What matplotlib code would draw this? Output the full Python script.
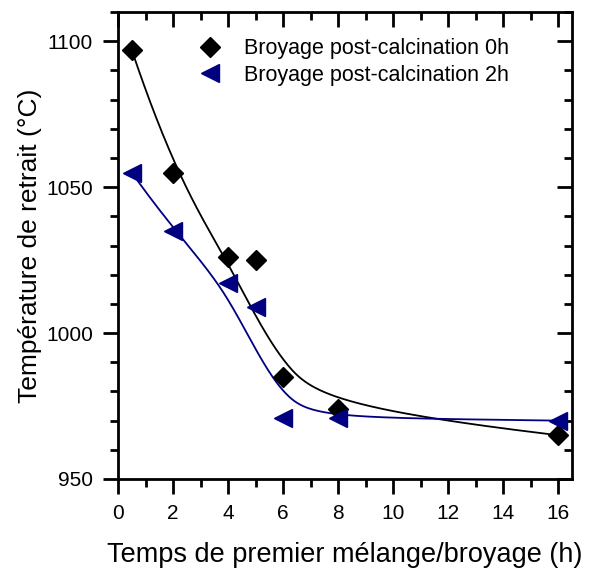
import numpy as np
import matplotlib
matplotlib.use("Agg")
import matplotlib.pyplot as plt
from matplotlib.ticker import MultipleLocator

plt.rcParams['font.family'] = ['Liberation Sans', 'DejaVu Sans']

# durée du premier mélange/broyage (h)
temps = [0.5, 2, 4, 5, 6, 8, 16]
# température de retrait (°C)
broyage_0h = [1097, 1055, 1026, 1025, 985, 974, 965]
broyage_2h = [1055, 1035, 1017, 1009, 971, 971, 970]
# le point à 5 h n'entre pas dans la courbe de tendance
dans_courbe = [True, True, True, False, True, True, True]


def bspline(px, py, n=400, k=3):
    # B-spline cubique ouverte, les points de mesure servent de points de contrôle
    P = np.column_stack([px, py]).astype(float)
    m = len(P)
    knots = np.concatenate([np.zeros(k), np.arange(m - k + 1), np.full(k, m - k)]).astype(float)
    t = np.linspace(0, m - k, n)
    t[-1] -= 1e-9

    def basis(i, d, t):
        if d == 0:
            return ((knots[i] <= t) & (t < knots[i + 1])).astype(float)
        a = 0.0
        b = 0.0
        if knots[i + d] != knots[i]:
            a = (t - knots[i]) / (knots[i + d] - knots[i]) * basis(i, d - 1, t)
        if knots[i + d + 1] != knots[i + 1]:
            b = (knots[i + d + 1] - t) / (knots[i + d + 1] - knots[i + 1]) * basis(i + 1, d - 1, t)
        return a + b

    B = np.column_stack([basis(i, k, t) for i in range(m)])
    C = B @ P
    return C[:, 0], C[:, 1]


fig = plt.figure(figsize=(5.9, 5.72), dpi=100)
ax = fig.add_axes([0.2, 0.1626, 0.7695, 0.8164])

navy = '#000080'
sel = np.array(dans_courbe)

x0, y0 = bspline(np.array(temps)[sel], np.array(broyage_0h)[sel])
x2, y2 = bspline(np.array(temps)[sel], np.array(broyage_2h)[sel])
ax.plot(x0, y0, color='black', lw=1.3)
ax.plot(x2, y2, color=navy, lw=1.3)

ax.plot(temps, broyage_0h, 'D', color='black', ms=10, ls='none',
        label='Broyage post-calcination 0h')
ax.plot(temps, broyage_2h, '<', color=navy, ms=13, ls='none',
        label='Broyage post-calcination 2h')

ax.set_xlim(0, 16.5)
ax.set_ylim(950, 1110)
ax.xaxis.set_major_locator(MultipleLocator(2))
ax.xaxis.set_minor_locator(MultipleLocator(1))
ax.yaxis.set_major_locator(MultipleLocator(50))
ax.yaxis.set_minor_locator(MultipleLocator(10))
ax.tick_params(which='both', direction='out', width=2, labelsize=15, pad=7)
ax.tick_params(which='major', length=11)
ax.tick_params(which='minor', length=6)
for s in ax.spines.values():
    s.set_linewidth(2)

# ticks intérieurs en haut et à droite
axt = ax.secondary_xaxis('top')
axt.xaxis.set_major_locator(MultipleLocator(2))
axt.xaxis.set_minor_locator(MultipleLocator(1))
axt.tick_params(which='both', direction='in', width=2, labeltop=False)
axt.tick_params(which='major', length=11)
axt.tick_params(which='minor', length=6)
axr = ax.secondary_yaxis('right')
axr.yaxis.set_major_locator(MultipleLocator(50))
axr.yaxis.set_minor_locator(MultipleLocator(10))
axr.tick_params(which='both', direction='in', width=2, labelright=False)
axr.tick_params(which='major', length=11)
axr.tick_params(which='minor', length=6)

ax.set_xlabel('Temps de premier mélange/broyage (h)', fontsize=19.5, labelpad=14)
ax.set_ylabel('Température de retrait (°C)', fontsize=19, labelpad=3)

ax.legend(loc='upper left', bbox_to_anchor=(0.155, 0.962), frameon=False,
          fontsize=15.5, handlelength=1.2, handletextpad=1.0,
          borderaxespad=0, labelspacing=0.25)

fig.savefig('out.png', dpi=100)
